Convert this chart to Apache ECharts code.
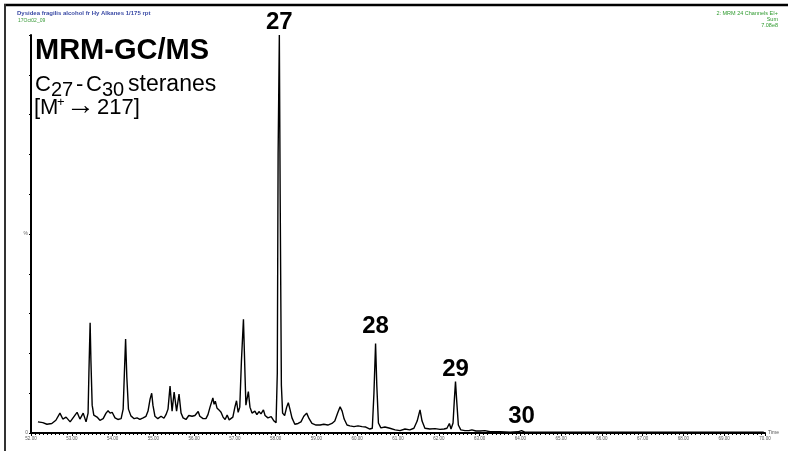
<!DOCTYPE html>
<html><head><meta charset="utf-8">
<script src="https://cdn.jsdelivr.net/npm/echarts@6/dist/echarts.min.js"></script>
<style>html,body{margin:0;padding:0;background:#fff}#c{width:788px;height:451px}</style>
</head><body><div id="c"></div>
<script>
// Retention time (min)
const times = [
52.17,52.29,52.39,52.51,52.61,52.71,52.78,52.86,52.96,53.08,53.13,53.20,53.28,53.35,53.40,53.42,53.45,53.47,53.50,53.54,
53.62,53.69,53.77,53.84,53.89,53.94,53.99,54.06,54.13,54.21,54.26,54.29,54.32,54.35,54.39,54.45,54.53,54.60,54.67,54.75,
54.82,54.87,54.92,54.96,54.99,55.04,55.11,55.19,55.26,55.31,55.36,55.41,55.46,55.51,55.57,55.63,55.68,55.73,55.80,55.87,
55.95,56.02,56.10,56.14,56.22,56.29,56.34,56.39,56.46,56.49,56.52,56.56,56.61,56.66,56.71,56.76,56.81,56.86,56.90,56.95,
57.00,57.04,57.08,57.12,57.16,57.21,57.25,57.27,57.33,57.37,57.42,57.49,57.54,57.59,57.64,57.70,57.74,57.81,57.89,57.96,
58.01,58.04,58.06,58.09,58.11,58.14,58.17,58.22,58.27,58.31,58.35,58.40,58.47,58.55,58.62,58.69,58.76,58.82,58.89,58.99,
59.09,59.18,59.28,59.38,59.45,59.52,59.58,59.63,59.68,59.75,59.82,59.92,60.02,60.12,60.21,60.31,60.37,60.41,60.45,60.48,
60.52,60.58,60.68,60.80,60.93,61.05,61.17,61.29,61.39,61.47,61.54,61.59,61.66,61.78,61.91,62.03,62.13,62.20,62.26,62.30,
62.35,62.38,62.41,62.44,62.48,62.54,62.64,62.74,62.81,62.85,62.91,63.01,63.13,63.26,63.50,63.75,63.94,64.03,64.11,64.48,
64.97,65.46,65.95,66.44,66.93,67.42,67.91,68.40,68.90,69.39,69.88,69.97
];
// Relative intensity (%)
const intensity = [
2.8,2.6,2.2,2.4,3.2,5.0,3.5,4.0,2.8,4.5,5.2,3.5,5.0,2.8,5.0,15,27.7,18,7,4.5,
4.0,3.2,3.6,5.0,5.6,5.0,5.2,3.8,3.4,3.6,6,15,23.6,14,6,4.3,3.6,3.8,3.4,3.8,
4.2,5.5,8.5,10,7,4.2,3.6,4.2,3.7,4.6,6,11.8,5.5,10.3,5.5,9.8,5,3.8,3.4,4.4,
4.2,4.4,5.4,4.2,3.6,3.6,4.6,6.5,8.8,7.2,8,6.3,5.8,5.2,4.0,3.4,4.5,3.3,2.9,4,
6.5,8.1,5.2,6.5,18,28.6,14,7,10.4,6.5,5,5.5,4.6,5.4,4.8,5.8,4.4,3.8,4.1,3.0,
2.6,15,70,100,60,12,5,4.4,6.5,7.6,6,3.8,2.2,2.4,2.8,4.2,5,3.6,2.4,2.0,
2.0,2.2,2.0,2.4,3.0,5,6.6,5.5,3.5,2.0,1.8,1.6,1.8,1.6,1.5,1.0,1.2,10,22.5,12,
2.5,1.3,1.5,1.2,0.8,0.6,1.0,0.8,1.2,3,5.8,3,1.2,1.0,1.1,0.9,1.0,1.2,2.4,1.0,
2.5,8,12.9,8,2,0.8,0.6,0.6,0.8,1.0,0.5,0.5,0.6,0.3,0.3,0.2,0.3,0.6,0.2,0.2,
0.2,0.2,0.2,0.2,0.2,0.2,0.2,0.2,0.2,0.2,0.2,0.2
];
const peakNames = ['27','28','29','30'];
const peakTimes = [58.09, 60.45, 62.41, 64.03];
const peakValues = [100, 22.5, 12.9, 0.6];
const xMin = 52, xMax = 70, xStep = 1;
const yMin = 0, yMax = 100, yStep = 10;
const yLabels = {0: '0', 50: '%'};

const FONT = '"Liberation Sans", Arial, sans-serif';
const chart = echarts.init(document.getElementById('c'), null, {renderer: 'canvas'});
const peakOffsets = [[0,-13],[0,-17],[0,-12],[0,-14]];

function txt(x, y, s, font, extra) {
  return Object.assign({type: 'text', x: x, y: y, silent: true,
    style: {text: s, font: font, fill: '#000', verticalAlign: 'middle'}}, extra || {});
}

const option = {
  animation: false,
  backgroundColor: '#fff',
  grid: {left: 31, right: 23, top: 35, bottom: 18, containLabel: false},
  xAxis: {
    type: 'value', min: xMin, max: xMax, interval: xStep,
    name: 'Time', nameLocation: 'end', nameGap: 3,
    nameTextStyle: {fontSize: 5, color: '#555', fontFamily: FONT, verticalAlign: 'middle'},
    axisLine: {lineStyle: {color: '#000', width: 2}},
    axisTick: {show: true, length: 3, lineStyle: {color: '#000', width: 1}},
    minorTick: {show: true, splitNumber: 10, length: 2, lineStyle: {color: '#000', width: 1}},
    splitLine: {show: false},
    axisLabel: {fontSize: 4.5, color: '#555', margin: 3, fontFamily: FONT,
      formatter: v => v.toFixed(2)}
  },
  yAxis: {
    type: 'value', min: yMin, max: yMax, interval: yStep,
    axisLine: {show: true, lineStyle: {color: '#000', width: 2}},
    axisTick: {show: true, length: 2, lineStyle: {color: '#000', width: 1}},
    splitLine: {show: false},
    axisLabel: {fontSize: 5, color: '#666', margin: 3, fontFamily: FONT,
      formatter: v => (yLabels[v] !== undefined ? yLabels[v] : '')}
  },
  series: [{
    type: 'line',
    data: times.map((t, i) => [t, intensity[i]]),
    showSymbol: false, symbol: 'none',
    lineStyle: {color: '#000', width: 1.4},
    z: 3,
    markPoint: {
      symbol: 'circle', symbolSize: 1,
      itemStyle: {color: 'rgba(0,0,0,0)'},
      label: {show: true, position: 'inside', formatter: '{b}', fontSize: 24, fontWeight: 'bold', color: '#000', fontFamily: FONT},
      data: peakNames.map((n, i) => ({name: n, coord: [peakTimes[i], peakValues[i]], label: {offset: peakOffsets[i]}}))
    }
  }],
  graphic: [
    {type: 'line', shape: {x1: 4, y1: 5, x2: 788, y2: 5}, style: {stroke: '#000', lineWidth: 2.5}, silent: true},
    {type: 'line', shape: {x1: 5, y1: 4, x2: 5, y2: 451}, style: {stroke: '#333', lineWidth: 2}, silent: true},
    {type: 'text', left: 17, top: 10, style: {text: 'Dysidea fragilis alcohol fr Hy Alkanes 1/175 rpt', font: 'bold 6px ' + FONT, fill: '#3a4aa5'}},
    {type: 'text', left: 18, top: 18, style: {text: '17Oct02_09', font: '5px ' + FONT, fill: '#3a9a3a'}},
    {type: 'text', right: 10, top: 10, style: {text: '2: MRM 24 Channels EI+', font: '5.5px ' + FONT, fill: '#2e9a2e', align: 'right'}},
    {type: 'text', right: 10, top: 16, style: {text: 'Sum', font: '5.5px ' + FONT, fill: '#2e9a2e', align: 'right'}},
    {type: 'text', right: 10, top: 22, style: {text: '7.08e8', font: '5.5px ' + FONT, fill: '#2e9a2e', align: 'right'}},
    txt(35, 51, 'MRM-GC/MS', 'bold 29px ' + FONT),
    txt(35, 85, 'C', '22px ' + FONT),
    txt(51, 90, '27', '20px ' + FONT),
    txt(76, 85, '-', '22px ' + FONT),
    txt(86, 85, 'C', '22px ' + FONT),
    txt(102, 90, '30', '20px ' + FONT),
    txt(128, 85, 'steranes', '23px ' + FONT),
    txt(34, 108, '[M', '22px ' + FONT),
    txt(57, 102, '+', '13px ' + FONT),
    txt(66, 106, '→', '29px ' + FONT),
    txt(97, 108, '217]', '22px ' + FONT)
  ]
};
chart.setOption(option);
</script>
</body></html>
